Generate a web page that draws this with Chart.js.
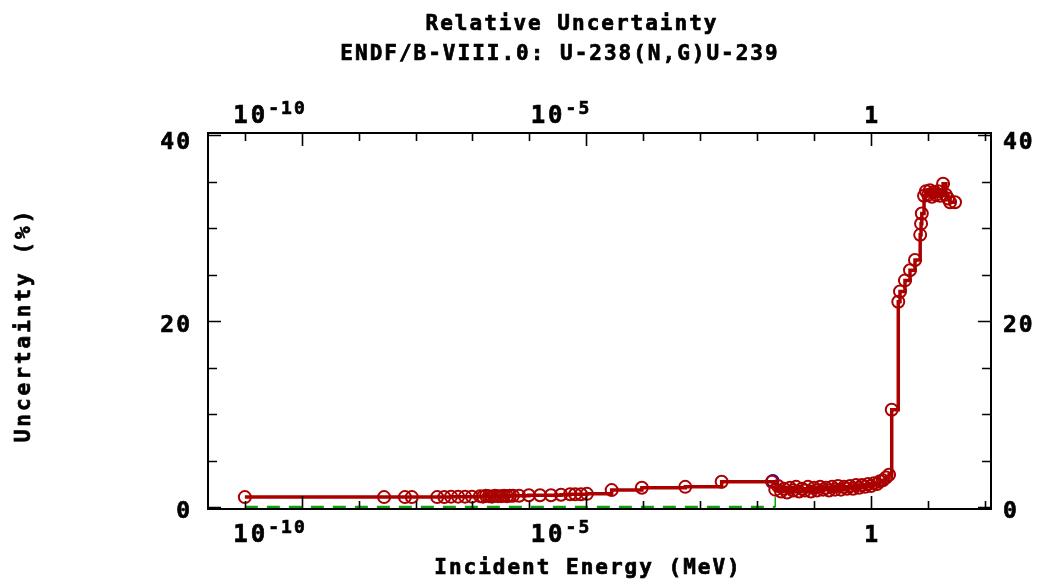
<!DOCTYPE html>
<html>
<head>
<meta charset="utf-8">
<script src="https://cdn.jsdelivr.net/npm/chart.js@4.4.0/dist/chart.umd.min.js"></script>
<style>
  body { margin: 0; background: #fff; }
  #wrap { width: 1044px; height: 584px; }
</style>
</head>
<body>
<div id="wrap"><canvas id="uncChart" width="1044" height="584"></canvas></div>
<script>
// titles
const titleLines = ['Relative Uncertainty', 'ENDF/B-VIII.0: U-238(N,G)U-239'];
const xTitle = 'Incident Energy (MeV)';
const yTitle = 'Uncertainty (%)';

// axis ranges and tick labels
const xMin = 2.25e-12;
const xMax = 130;
const yMin = -0.18;
const yMax = 40.25;
const xMajor = [1e-10, 1e-5, 1];
const xMajorBase = ['10', '10', '1'];
const xMajorExp = ['-10', '-5', ''];
const yMajor = [0, 20, 40];
const yMajorText = ['0', '20', '40'];

// red curve: energy (MeV) and relative uncertainty (%)
const redE = [1e-11, 2.8e-9, 6.5e-9, 8.6e-9, 2.4e-8, 3.2e-8, 4.2e-8, 5.6e-8, 7.4e-8, 9.8e-8,
  1.36e-7, 1.53e-7, 1.73e-7, 1.95e-7, 2.2e-7, 2.49e-7, 2.81e-7, 3.18e-7, 3.59e-7, 4.05e-7,
  4.57e-7, 5.16e-7, 6.6e-7, 9.8e-7, 1.54e-6, 2.4e-6, 3.6e-6, 5.2e-6, 6.4e-6, 8.1e-6,
  1.03e-5, 2.8e-5, 9.5e-5, 5.5e-4, 2.4e-3, 0.0184,
  0.021, 0.0235, 0.0265, 0.0299, 0.0338, 0.0382, 0.0431, 0.0487, 0.055, 0.062,
  0.070, 0.079, 0.089, 0.101, 0.114, 0.129, 0.145, 0.164, 0.185, 0.209,
  0.236, 0.266, 0.30, 0.34, 0.383, 0.433, 0.489, 0.552, 0.623, 0.703,
  0.794, 0.897, 1.01, 1.14, 1.29, 1.46, 1.64, 1.86, 2.10,
  2.34, 3.05, 3.27, 4.0, 4.9, 6.0, 7.4, 7.67, 7.9,
  8.65, 9.37, 10.2, 11.0, 11.9, 12.9, 14.0, 15.2, 16.5, 18.7,
  21.0, 22.8, 24.8, 30.3];
const redU = [1.1, 1.1, 1.1, 1.1, 1.1, 1.1, 1.15, 1.15, 1.15, 1.15,
  1.2, 1.15, 1.25, 1.2, 1.15, 1.25, 1.2, 1.2, 1.25, 1.2,
  1.25, 1.25, 1.25, 1.3, 1.3, 1.3, 1.35, 1.4, 1.4, 1.4,
  1.45, 1.85, 2.1, 2.2, 2.75, 2.75,
  1.9, 2.3, 1.7, 2.0, 1.6, 2.1, 1.8, 2.2, 1.7, 2.0,
  1.8, 2.2, 1.7, 2.1, 1.8, 2.2, 1.9, 2.1, 1.8, 2.2,
  1.9, 2.3, 1.9, 2.2, 2.0, 2.3, 2.0, 2.4, 2.1, 2.4,
  2.2, 2.5, 2.3, 2.6, 2.5, 2.8, 2.9, 3.2, 3.5,
  10.5, 22.1, 23.2, 24.4, 25.5, 26.6, 29.3, 30.5, 31.6,
  33.5, 34.0, 33.6, 34.1, 33.4, 33.9, 33.6, 34.0, 33.5, 34.8,
  33.6, 33.2, 32.8, 32.8];

// blue curve (mostly hidden under the red one)
const blueE = [0.019];
const blueU = [2.85];

// green curve
const greenE = [1e-11, 0.021, 0.021];
const greenU = [0, 0, 1.1];

const toPts = (xs, ys) => xs.map((e, i) => ({ x: e, y: ys[i] }));

const FONT = '"DejaVu Sans Mono", "Liberation Mono", monospace';

function txt(ctx, s, x, y, size, align, spacing) {
  ctx.font = 'bold ' + size + 'px ' + FONT;
  ctx.letterSpacing = (spacing || 0) + 'px';
  ctx.textAlign = align;
  ctx.textBaseline = 'alphabetic';
  ctx.lineWidth = 0.7;
  ctx.fillText(s, x, y);
  ctx.strokeText(s, x, y);
}

// frame, inward ticks, labels and titles
const framePlugin = {
  id: 'frame',
  afterDraw(chart) {
    const ctx = chart.ctx;
    const { left, right, top, bottom } = chart.chartArea;
    const xs = chart.scales.x, ys = chart.scales.y;
    ctx.save();
    ctx.strokeStyle = '#000';
    ctx.fillStyle = '#000';
    ctx.lineWidth = 2;
    ctx.strokeRect(left, top, right - left, bottom - top);

    // x ticks, every decade
    ctx.lineWidth = 1.6;
    for (let e = -11; e <= 2; e++) {
      const p = Math.round(xs.getPixelForValue(Math.pow(10, e))) + 0.5;
      const len = e % 5 === 0 ? 13 : 8;
      ctx.beginPath();
      ctx.moveTo(p, bottom); ctx.lineTo(p, bottom - len);
      ctx.moveTo(p, top); ctx.lineTo(p, top + len);
      ctx.stroke();
    }
    // y ticks, every 5
    for (let v = 0; v <= 40; v += 5) {
      const p = Math.round(ys.getPixelForValue(v)) + 0.5;
      const len = v % 20 === 0 ? 13 : 9;
      ctx.beginPath();
      ctx.moveTo(left, p); ctx.lineTo(left + len, p);
      ctx.moveTo(right, p); ctx.lineTo(right - len, p);
      ctx.stroke();
    }

    // x tick labels (bottom and top)
    xMajor.forEach((val, i) => {
      const p = xs.getPixelForValue(val);
      const base = xMajorBase[i], exp = xMajorExp[i];
      if (!exp) {
        txt(ctx, base, p + 1, bottom + 33, 23, 'center', 1);
        txt(ctx, base, p + 1, top - 10, 23, 'center', 1);
        return;
      }
      ctx.font = 'bold 24px ' + FONT; ctx.letterSpacing = '3px';
      const wb = ctx.measureText(base).width;
      ctx.font = 'bold 18px ' + FONT; ctx.letterSpacing = '2px';
      const we = ctx.measureText(exp).width;
      const x0 = p + 5 - wb - we;
      txt(ctx, base, x0, bottom + 33, 24, 'left', 3);
      txt(ctx, exp, x0 + wb, bottom + 24, 18, 'left', 2);
      txt(ctx, base, x0, top - 10, 24, 'left', 3);
      txt(ctx, exp, x0 + wb, top - 19, 18, 'left', 2);
    });

    // y tick labels (left and right)
    yMajor.forEach((val, i) => {
      const p = Math.max(ys.getPixelForValue(val) + 3, top + 8);
      txt(ctx, yMajorText[i], left - 16, p + 8, 23, 'right', 2);
      txt(ctx, yMajorText[i], right + 12, p + 8, 23, 'left', 2);
    });

    // titles
    txt(ctx, titleLines[0], 572, 30, 21, 'center', 2);
    txt(ctx, titleLines[1], 560, 60, 21, 'center', 2);
    txt(ctx, xTitle, 588, 574, 21, 'center', 2);
    ctx.save();
    ctx.translate(30, 325);
    ctx.rotate(-Math.PI / 2);
    txt(ctx, yTitle, 0, 0, 21, 'center', 3);
    ctx.restore();
    ctx.restore();
  }
};

const ctx = document.getElementById('uncChart').getContext('2d');
new Chart(ctx, {
  type: 'line',
  data: {
    datasets: [
      {
        label: 'red',
        data: toPts(redE, redU),
        borderColor: '#aa0000',
        borderWidth: 3.5,
        stepped: 'before',
        pointRadius: 6,
        pointBorderWidth: 2,
        pointBorderColor: '#aa0000',
        pointBackgroundColor: 'rgba(0,0,0,0)',
        fill: false
      },
      {
        label: 'blue',
        data: toPts(blueE, blueU),
        showLine: false,
        pointRadius: 6,
        pointBorderWidth: 1.6,
        pointBorderColor: '#0000d0',
        pointBackgroundColor: 'rgba(0,0,0,0)'
      },
      {
        label: 'green',
        data: toPts(greenE, greenU),
        borderColor: '#10a010',
        borderWidth: 3,
        pointRadius: 0,
        fill: false,
        segment: {
          borderDash: c => (c.p0.parsed.y === c.p1.parsed.y ? [13, 9] : []),
          borderWidth: c => (c.p0.parsed.y === c.p1.parsed.y ? 3 : 1.5)
        }
      }
    ]
  },
  options: {
    responsive: false,
    animation: false,
    layout: { padding: { left: 208, right: 53, top: 133, bottom: 75 } },
    plugins: { legend: { display: false }, tooltip: { enabled: false }, title: { display: false } },
    scales: {
      x: { type: 'logarithmic', min: xMin, max: xMax, display: false },
      y: { type: 'linear', min: yMin, max: yMax, display: false }
    }
  },
  plugins: [framePlugin]
});
</script>
</body>
</html>
